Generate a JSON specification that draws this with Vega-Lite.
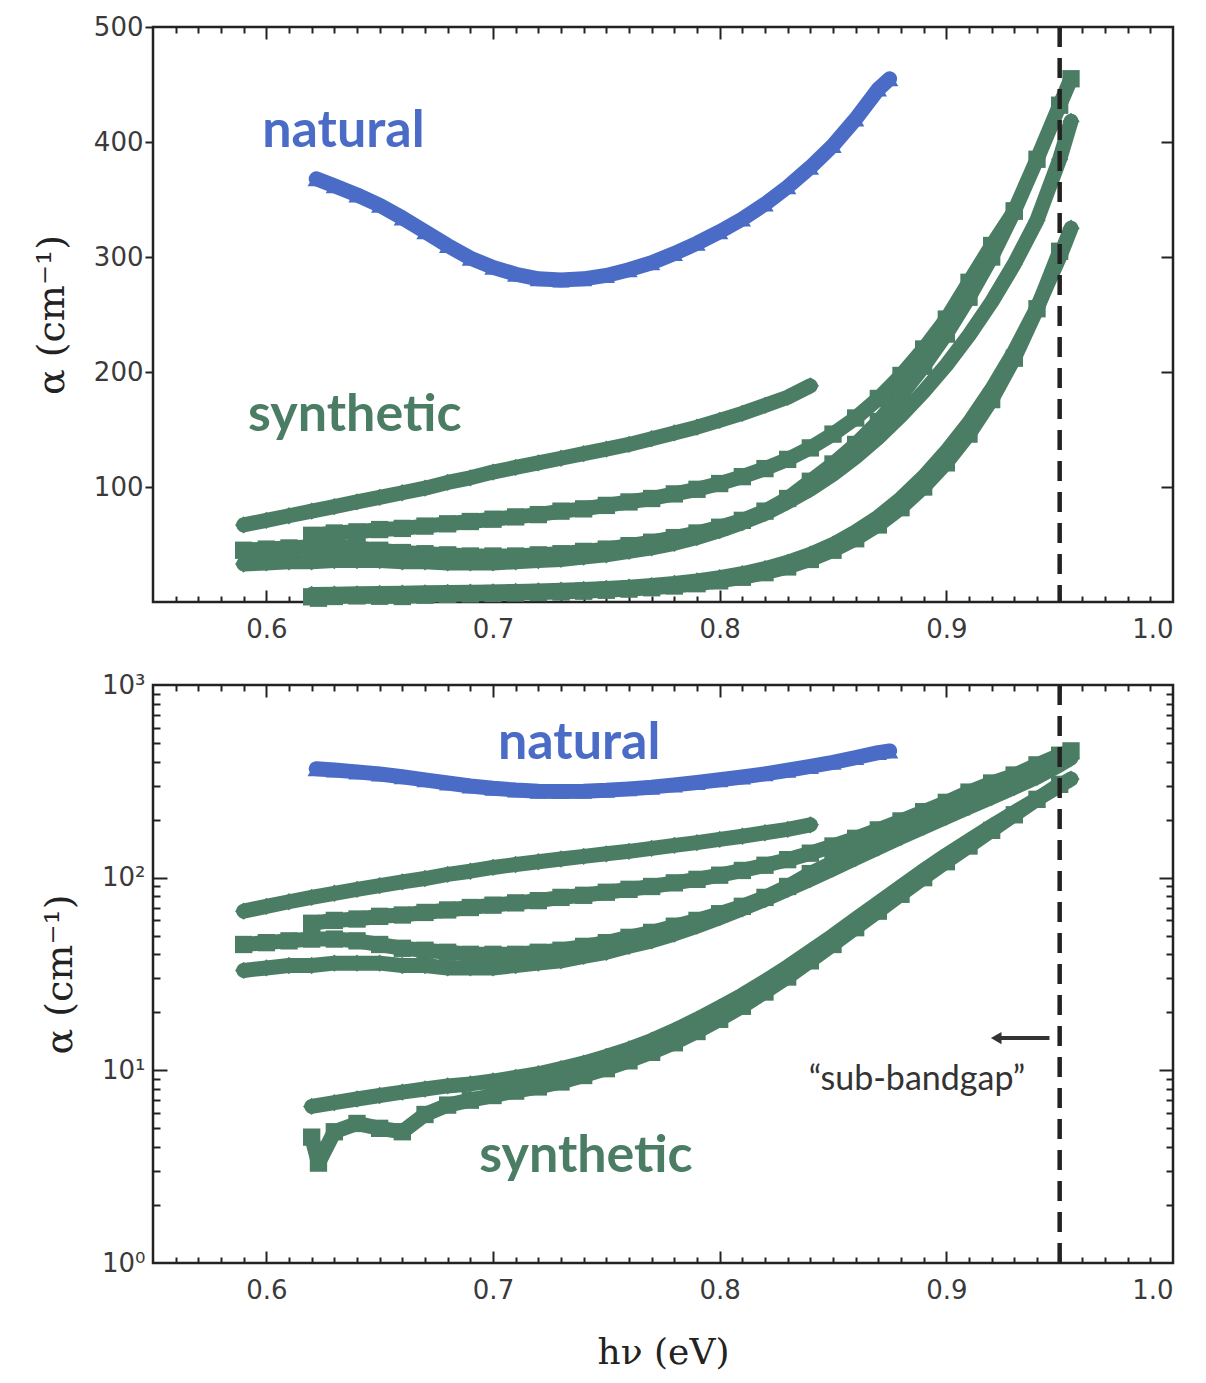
{
  "$schema": "https://vega.github.io/schema/vega-lite/v6.json",
  "background": "white",
  "padding": {"left": 32, "top": 12, "right": 12, "bottom": 5},
  "spacing": 26,
  "datasets": {
    "curves": [
      {"s":"N","g":"natural","x":0.622,"y":368},{"s":"N","g":"natural","x":0.63,"y":362},{"s":"N","g":"natural","x":0.64,"y":354},{"s":"N","g":"natural","x":0.65,"y":345},{"s":"N","g":"natural","x":0.66,"y":334},{"s":"N","g":"natural","x":0.67,"y":322},{"s":"N","g":"natural","x":0.68,"y":310},{"s":"N","g":"natural","x":0.69,"y":299},{"s":"N","g":"natural","x":0.70,"y":291},{"s":"N","g":"natural","x":0.71,"y":285},{"s":"N","g":"natural","x":0.72,"y":281},{"s":"N","g":"natural","x":0.73,"y":280},{"s":"N","g":"natural","x":0.74,"y":281},{"s":"N","g":"natural","x":0.75,"y":284},{"s":"N","g":"natural","x":0.76,"y":289},{"s":"N","g":"natural","x":0.77,"y":295},{"s":"N","g":"natural","x":0.78,"y":303},{"s":"N","g":"natural","x":0.79,"y":312},{"s":"N","g":"natural","x":0.80,"y":322},{"s":"N","g":"natural","x":0.81,"y":333},{"s":"N","g":"natural","x":0.82,"y":346},{"s":"N","g":"natural","x":0.83,"y":361},{"s":"N","g":"natural","x":0.84,"y":378},{"s":"N","g":"natural","x":0.85,"y":397},{"s":"N","g":"natural","x":0.86,"y":420},{"s":"N","g":"natural","x":0.87,"y":446},{"s":"N","g":"natural","x":0.875,"y":455},
      {"s":"A","g":"synthetic","x":0.59,"y":67},{"s":"A","g":"synthetic","x":0.60,"y":71},{"s":"A","g":"synthetic","x":0.61,"y":75},{"s":"A","g":"synthetic","x":0.62,"y":79},{"s":"A","g":"synthetic","x":0.63,"y":83},{"s":"A","g":"synthetic","x":0.64,"y":87},{"s":"A","g":"synthetic","x":0.65,"y":91},{"s":"A","g":"synthetic","x":0.66,"y":95},{"s":"A","g":"synthetic","x":0.67,"y":99},{"s":"A","g":"synthetic","x":0.68,"y":104},{"s":"A","g":"synthetic","x":0.69,"y":108},{"s":"A","g":"synthetic","x":0.70,"y":113},{"s":"A","g":"synthetic","x":0.71,"y":117},{"s":"A","g":"synthetic","x":0.72,"y":121},{"s":"A","g":"synthetic","x":0.73,"y":125},{"s":"A","g":"synthetic","x":0.74,"y":129},{"s":"A","g":"synthetic","x":0.75,"y":133},{"s":"A","g":"synthetic","x":0.76,"y":137},{"s":"A","g":"synthetic","x":0.77,"y":142},{"s":"A","g":"synthetic","x":0.78,"y":147},{"s":"A","g":"synthetic","x":0.79,"y":152},{"s":"A","g":"synthetic","x":0.80,"y":158},{"s":"A","g":"synthetic","x":0.81,"y":164},{"s":"A","g":"synthetic","x":0.82,"y":171},{"s":"A","g":"synthetic","x":0.83,"y":178},{"s":"A","g":"synthetic","x":0.84,"y":188},
      {"s":"B","g":"synthetic","x":0.62,"y":58},{"s":"B","g":"synthetic","x":0.63,"y":60},{"s":"B","g":"synthetic","x":0.64,"y":61},{"s":"B","g":"synthetic","x":0.65,"y":63},{"s":"B","g":"synthetic","x":0.66,"y":64},{"s":"B","g":"synthetic","x":0.67,"y":66},{"s":"B","g":"synthetic","x":0.68,"y":68},{"s":"B","g":"synthetic","x":0.69,"y":70},{"s":"B","g":"synthetic","x":0.70,"y":72},{"s":"B","g":"synthetic","x":0.71,"y":74},{"s":"B","g":"synthetic","x":0.72,"y":76},{"s":"B","g":"synthetic","x":0.73,"y":79},{"s":"B","g":"synthetic","x":0.74,"y":81},{"s":"B","g":"synthetic","x":0.75,"y":84},{"s":"B","g":"synthetic","x":0.76,"y":87},{"s":"B","g":"synthetic","x":0.77,"y":90},{"s":"B","g":"synthetic","x":0.78,"y":94},{"s":"B","g":"synthetic","x":0.79,"y":98},{"s":"B","g":"synthetic","x":0.80,"y":103},{"s":"B","g":"synthetic","x":0.81,"y":109},{"s":"B","g":"synthetic","x":0.82,"y":116},{"s":"B","g":"synthetic","x":0.83,"y":124},{"s":"B","g":"synthetic","x":0.84,"y":134},{"s":"B","g":"synthetic","x":0.85,"y":146},{"s":"B","g":"synthetic","x":0.86,"y":160},{"s":"B","g":"synthetic","x":0.87,"y":177},{"s":"B","g":"synthetic","x":0.88,"y":197},{"s":"B","g":"synthetic","x":0.89,"y":220},{"s":"B","g":"synthetic","x":0.90,"y":246},{"s":"B","g":"synthetic","x":0.91,"y":278},{"s":"B","g":"synthetic","x":0.92,"y":310},{"s":"B","g":"synthetic","x":0.93,"y":340},
      {"s":"C","g":"synthetic","x":0.59,"y":45},{"s":"C","g":"synthetic","x":0.60,"y":46},{"s":"C","g":"synthetic","x":0.61,"y":47},{"s":"C","g":"synthetic","x":0.62,"y":48},{"s":"C","g":"synthetic","x":0.63,"y":48},{"s":"C","g":"synthetic","x":0.64,"y":47},{"s":"C","g":"synthetic","x":0.65,"y":45},{"s":"C","g":"synthetic","x":0.66,"y":43},{"s":"C","g":"synthetic","x":0.67,"y":42},{"s":"C","g":"synthetic","x":0.68,"y":41},{"s":"C","g":"synthetic","x":0.69,"y":40},{"s":"C","g":"synthetic","x":0.70,"y":40},{"s":"C","g":"synthetic","x":0.71,"y":40},{"s":"C","g":"synthetic","x":0.72,"y":41},{"s":"C","g":"synthetic","x":0.73,"y":42},{"s":"C","g":"synthetic","x":0.74,"y":44},{"s":"C","g":"synthetic","x":0.75,"y":46},{"s":"C","g":"synthetic","x":0.76,"y":49},{"s":"C","g":"synthetic","x":0.77,"y":52},{"s":"C","g":"synthetic","x":0.78,"y":56},{"s":"C","g":"synthetic","x":0.79,"y":60},{"s":"C","g":"synthetic","x":0.80,"y":65},{"s":"C","g":"synthetic","x":0.81,"y":71},{"s":"C","g":"synthetic","x":0.82,"y":79},{"s":"C","g":"synthetic","x":0.83,"y":90},{"s":"C","g":"synthetic","x":0.84,"y":105},{"s":"C","g":"synthetic","x":0.85,"y":120},{"s":"C","g":"synthetic","x":0.86,"y":137},{"s":"C","g":"synthetic","x":0.87,"y":157},{"s":"C","g":"synthetic","x":0.88,"y":180},{"s":"C","g":"synthetic","x":0.89,"y":205},{"s":"C","g":"synthetic","x":0.90,"y":233},{"s":"C","g":"synthetic","x":0.91,"y":265},{"s":"C","g":"synthetic","x":0.92,"y":300},{"s":"C","g":"synthetic","x":0.93,"y":340},{"s":"C","g":"synthetic","x":0.94,"y":385},{"s":"C","g":"synthetic","x":0.95,"y":432},{"s":"C","g":"synthetic","x":0.955,"y":455},
      {"s":"D","g":"synthetic","x":0.59,"y":33},{"s":"D","g":"synthetic","x":0.60,"y":34},{"s":"D","g":"synthetic","x":0.61,"y":35},{"s":"D","g":"synthetic","x":0.62,"y":35},{"s":"D","g":"synthetic","x":0.63,"y":36},{"s":"D","g":"synthetic","x":0.64,"y":36},{"s":"D","g":"synthetic","x":0.65,"y":36},{"s":"D","g":"synthetic","x":0.66,"y":35},{"s":"D","g":"synthetic","x":0.67,"y":35},{"s":"D","g":"synthetic","x":0.68,"y":34},{"s":"D","g":"synthetic","x":0.69,"y":34},{"s":"D","g":"synthetic","x":0.70,"y":34},{"s":"D","g":"synthetic","x":0.71,"y":35},{"s":"D","g":"synthetic","x":0.72,"y":36},{"s":"D","g":"synthetic","x":0.73,"y":37},{"s":"D","g":"synthetic","x":0.74,"y":39},{"s":"D","g":"synthetic","x":0.75,"y":41},{"s":"D","g":"synthetic","x":0.76,"y":44},{"s":"D","g":"synthetic","x":0.77,"y":47},{"s":"D","g":"synthetic","x":0.78,"y":51},{"s":"D","g":"synthetic","x":0.79,"y":56},{"s":"D","g":"synthetic","x":0.80,"y":62},{"s":"D","g":"synthetic","x":0.81,"y":69},{"s":"D","g":"synthetic","x":0.82,"y":77},{"s":"D","g":"synthetic","x":0.83,"y":87},{"s":"D","g":"synthetic","x":0.84,"y":98},{"s":"D","g":"synthetic","x":0.85,"y":111},{"s":"D","g":"synthetic","x":0.86,"y":126},{"s":"D","g":"synthetic","x":0.87,"y":143},{"s":"D","g":"synthetic","x":0.88,"y":162},{"s":"D","g":"synthetic","x":0.89,"y":183},{"s":"D","g":"synthetic","x":0.90,"y":206},{"s":"D","g":"synthetic","x":0.91,"y":232},{"s":"D","g":"synthetic","x":0.92,"y":261},{"s":"D","g":"synthetic","x":0.93,"y":294},{"s":"D","g":"synthetic","x":0.94,"y":332},{"s":"D","g":"synthetic","x":0.95,"y":385},{"s":"D","g":"synthetic","x":0.955,"y":418},
      {"s":"E2","g":"synthetic","x":0.62,"y":6.5},{"s":"E2","g":"synthetic","x":0.63,"y":6.8},{"s":"E2","g":"synthetic","x":0.64,"y":7.1},{"s":"E2","g":"synthetic","x":0.65,"y":7.4},{"s":"E2","g":"synthetic","x":0.66,"y":7.7},{"s":"E2","g":"synthetic","x":0.67,"y":8.0},{"s":"E2","g":"synthetic","x":0.68,"y":8.3},{"s":"E2","g":"synthetic","x":0.69,"y":8.5},{"s":"E2","g":"synthetic","x":0.70,"y":8.8},{"s":"E2","g":"synthetic","x":0.71,"y":9.2},{"s":"E2","g":"synthetic","x":0.72,"y":9.6},{"s":"E2","g":"synthetic","x":0.73,"y":10.2},{"s":"E2","g":"synthetic","x":0.74,"y":10.9},{"s":"E2","g":"synthetic","x":0.75,"y":11.8},{"s":"E2","g":"synthetic","x":0.76,"y":12.9},{"s":"E2","g":"synthetic","x":0.77,"y":14.3},{"s":"E2","g":"synthetic","x":0.78,"y":16.1},{"s":"E2","g":"synthetic","x":0.79,"y":18.4},{"s":"E2","g":"synthetic","x":0.80,"y":21.2},{"s":"E2","g":"synthetic","x":0.81,"y":24.6},{"s":"E2","g":"synthetic","x":0.82,"y":29},{"s":"E2","g":"synthetic","x":0.83,"y":34.5},{"s":"E2","g":"synthetic","x":0.84,"y":41.5},{"s":"E2","g":"synthetic","x":0.85,"y":50},{"s":"E2","g":"synthetic","x":0.86,"y":61},{"s":"E2","g":"synthetic","x":0.87,"y":74},{"s":"E2","g":"synthetic","x":0.88,"y":90},{"s":"E2","g":"synthetic","x":0.89,"y":109},{"s":"E2","g":"synthetic","x":0.90,"y":131},{"s":"E2","g":"synthetic","x":0.91,"y":156},{"s":"E2","g":"synthetic","x":0.92,"y":185},{"s":"E2","g":"synthetic","x":0.93,"y":218},{"s":"E2","g":"synthetic","x":0.94,"y":256},{"s":"E2","g":"synthetic","x":0.95,"y":300},{"s":"E2","g":"synthetic","x":0.955,"y":325},
      {"s":"E1","g":"synthetic","x":0.62,"y":4.5},{"s":"E1","g":"synthetic","x":0.623,"y":3.3},{"s":"E1","g":"synthetic","x":0.63,"y":4.8},{"s":"E1","g":"synthetic","x":0.64,"y":5.3},{"s":"E1","g":"synthetic","x":0.65,"y":5.0},{"s":"E1","g":"synthetic","x":0.66,"y":4.8},{"s":"E1","g":"synthetic","x":0.67,"y":5.9},{"s":"E1","g":"synthetic","x":0.68,"y":6.6},{"s":"E1","g":"synthetic","x":0.69,"y":7.0},{"s":"E1","g":"synthetic","x":0.70,"y":7.4},{"s":"E1","g":"synthetic","x":0.71,"y":7.8},{"s":"E1","g":"synthetic","x":0.72,"y":8.2},{"s":"E1","g":"synthetic","x":0.73,"y":8.7},{"s":"E1","g":"synthetic","x":0.74,"y":9.4},{"s":"E1","g":"synthetic","x":0.75,"y":10.2},{"s":"E1","g":"synthetic","x":0.76,"y":11.2},{"s":"E1","g":"synthetic","x":0.77,"y":12.4},{"s":"E1","g":"synthetic","x":0.78,"y":13.9},{"s":"E1","g":"synthetic","x":0.79,"y":15.9},{"s":"E1","g":"synthetic","x":0.80,"y":18.4},{"s":"E1","g":"synthetic","x":0.81,"y":21.5},{"s":"E1","g":"synthetic","x":0.82,"y":25.5},{"s":"E1","g":"synthetic","x":0.83,"y":30.5},{"s":"E1","g":"synthetic","x":0.84,"y":37},{"s":"E1","g":"synthetic","x":0.85,"y":45},{"s":"E1","g":"synthetic","x":0.86,"y":55},{"s":"E1","g":"synthetic","x":0.87,"y":67},{"s":"E1","g":"synthetic","x":0.88,"y":82},{"s":"E1","g":"synthetic","x":0.89,"y":100},{"s":"E1","g":"synthetic","x":0.90,"y":121},{"s":"E1","g":"synthetic","x":0.91,"y":146},{"s":"E1","g":"synthetic","x":0.92,"y":176},{"s":"E1","g":"synthetic","x":0.93,"y":212},{"s":"E1","g":"synthetic","x":0.94,"y":255},{"s":"E1","g":"synthetic","x":0.95,"y":305}
    ],
    "cut": [{"x": 0.95}],
    "lab_top": [
      {"label": "natural", "g": "natural", "x": 0.634, "y": 410},
      {"label": "synthetic", "g": "synthetic", "x": 0.639, "y": 163}
    ],
    "lab_bot": [
      {"label": "natural", "g": "natural", "x": 0.738, "y": 500},
      {"label": "synthetic", "g": "synthetic", "x": 0.741, "y": 3.6}
    ],
    "note": [{"label": "“sub-bandgap”", "x": 0.887, "y": 8.9}],
    "arrow": [{"x": 0.9455, "x2": 0.924, "y": 14.7, "hx": 0.922}]
  },
  "vconcat": [
    {
      "width": 1020,
      "height": 575,
      "layer": [
        {
          "data": {"name": "curves"},
          "mark": {"type": "line", "strokeWidth": 15, "strokeCap": "round", "strokeJoin": "round"},
          "encoding": {
            "x": {"field": "x", "type": "quantitative", "scale": {"domain": [0.55, 1.0], "nice": false, "zero": false},
              "axis": {"orient": "bottom", "values": [0.6, 0.7, 0.8, 0.9, 1.0], "format": ".1f", "ticks": false, "labelPadding": 14, "title": null}},
            "y": {"field": "y", "type": "quantitative", "scale": {"domain": [0, 500], "nice": false, "zero": false},
              "axis": {"orient": "left", "values": [100, 200, 300, 400, 500], "ticks": true, "tickSize": 8, "labelPadding": 2, "title": "α (cm⁻¹)", "titlePadding": 22}},
            "detail": {"field": "s"},
            "color": {"field": "g", "type": "nominal", "scale": {"domain": ["natural", "synthetic"], "range": ["#4a6cc6", "#4b7d64"]}, "legend": null}
          }
        },
        {
          "data": {"name": "curves"},
          "mark": {"type": "point", "filled": true, "opacity": 1, "size": 300},
          "encoding": {
            "x": {"field": "x", "type": "quantitative", "scale": {"domain": [0.55, 1.0], "nice": false, "zero": false},
              "axis": {"orient": "bottom", "labels": false, "title": null, "values": [0.56,0.57,0.58,0.59,0.6,0.61,0.62,0.63,0.64,0.65,0.66,0.67,0.68,0.69,0.7,0.71,0.72,0.73,0.74,0.75,0.76,0.77,0.78,0.79,0.8,0.81,0.82,0.83,0.84,0.85,0.86,0.87,0.88,0.89,0.9,0.91,0.92,0.93,0.94,0.95,0.96,0.97,0.98,0.99],
                "tickSize": {"condition": {"test": "abs(datum.value*10 - round(datum.value*10)) < 0.001", "value": -12}, "value": -6}}},
            "y": {"field": "y", "type": "quantitative", "scale": {"domain": [0, 500], "nice": false, "zero": false},
              "axis": {"orient": "right", "labels": false, "title": null, "values": [100, 200, 300, 400], "tickSize": -12}},
            "shape": {"field": "s", "type": "nominal", "scale": {"domain": ["N", "A", "B", "C", "D", "E1", "E2"], "range": ["triangle-up", "diamond", "square", "square", "diamond", "square", "diamond"]}, "legend": null},
            "color": {"field": "g", "type": "nominal", "scale": {"domain": ["natural", "synthetic"], "range": ["#4a6cc6", "#4b7d64"]}, "legend": null}
          }
        },
        {
          "data": {"name": "curves"},
          "mark": {"type": "point", "opacity": 0},
          "encoding": {
            "x": {"field": "x", "type": "quantitative", "scale": {"domain": [0.55, 1.0], "nice": false, "zero": false},
              "axis": {"orient": "top", "labels": false, "title": null, "values": [0.56,0.57,0.58,0.59,0.6,0.61,0.62,0.63,0.64,0.65,0.66,0.67,0.68,0.69,0.7,0.71,0.72,0.73,0.74,0.75,0.76,0.77,0.78,0.79,0.8,0.81,0.82,0.83,0.84,0.85,0.86,0.87,0.88,0.89,0.9,0.91,0.92,0.93,0.94,0.95,0.96,0.97,0.98,0.99],
                "tickSize": {"condition": {"test": "abs(datum.value*10 - round(datum.value*10)) < 0.001", "value": -12}, "value": -6}}},
            "y": {"field": "y", "type": "quantitative", "scale": {"domain": [0, 500], "nice": false, "zero": false}, "axis": null}
          }
        },
        {
          "data": {"name": "lab_top"},
          "mark": {"type": "text", "font": "Lato", "fontWeight": "bold", "fontSize": 52, "align": "center", "baseline": "middle"},
          "encoding": {
            "x": {"field": "x", "type": "quantitative", "axis": null},
            "y": {"field": "y", "type": "quantitative", "axis": null},
            "text": {"field": "label"},
            "color": {"field": "g", "type": "nominal", "scale": {"domain": ["natural", "synthetic"], "range": ["#4a6cc6", "#4b7d64"]}, "legend": null}
          }
        },
        {
          "data": {"name": "cut"},
          "mark": {"type": "rule", "strokeDash": [20, 11], "strokeWidth": 4.5, "color": "#222"},
          "encoding": {"x": {"field": "x", "type": "quantitative", "axis": null}}
        }
      ],
      "resolve": {"axis": {"x": "independent", "y": "independent"}}
    },
    {
      "width": 1020,
      "height": 578,
      "layer": [
        {
          "data": {"name": "curves"},
          "mark": {"type": "line", "strokeWidth": 15, "strokeCap": "round", "strokeJoin": "round"},
          "encoding": {
            "x": {"field": "x", "type": "quantitative", "scale": {"domain": [0.55, 1.0], "nice": false, "zero": false},
              "axis": {"orient": "bottom", "values": [0.6, 0.7, 0.8, 0.9, 1.0], "format": ".1f", "ticks": false, "labelPadding": 14, "title": "hν (eV)", "titleFontSize": 36, "titlePadding": 32}},
            "y": {"field": "y", "type": "quantitative", "scale": {"type": "log", "domain": [1, 1000], "nice": false},
              "axis": {"orient": "left", "values": [1, 10, 100, 1000], "ticks": false, "labelPadding": 8, "title": "α (cm⁻¹)", "titlePadding": 22,
                "labelExpr": "datum.value == 1 ? '10⁰' : datum.value == 10 ? '10¹' : datum.value == 100 ? '10²' : '10³'"}},
            "detail": {"field": "s"},
            "color": {"field": "g", "type": "nominal", "scale": {"domain": ["natural", "synthetic"], "range": ["#4a6cc6", "#4b7d64"]}, "legend": null}
          }
        },
        {
          "data": {"name": "curves"},
          "mark": {"type": "point", "filled": true, "opacity": 1, "size": 300},
          "encoding": {
            "x": {"field": "x", "type": "quantitative", "scale": {"domain": [0.55, 1.0], "nice": false, "zero": false},
              "axis": {"orient": "bottom", "labels": false, "title": null, "values": [0.56,0.57,0.58,0.59,0.6,0.61,0.62,0.63,0.64,0.65,0.66,0.67,0.68,0.69,0.7,0.71,0.72,0.73,0.74,0.75,0.76,0.77,0.78,0.79,0.8,0.81,0.82,0.83,0.84,0.85,0.86,0.87,0.88,0.89,0.9,0.91,0.92,0.93,0.94,0.95,0.96,0.97,0.98,0.99],
                "tickSize": {"condition": {"test": "abs(datum.value*10 - round(datum.value*10)) < 0.001", "value": -12}, "value": -6}}},
            "y": {"field": "y", "type": "quantitative", "scale": {"type": "log", "domain": [1, 1000], "nice": false},
              "axis": {"orient": "right", "labels": false, "title": null, "values": [2,3,4,5,6,7,8,9,10,20,30,40,50,60,70,80,90,100,200,300,400,500,600,700,800,900],
                "tickSize": {"condition": {"test": "indexof([10,100], datum.value) >= 0", "value": -14}, "value": -7}}},
            "shape": {"field": "s", "type": "nominal", "scale": {"domain": ["N", "A", "B", "C", "D", "E1", "E2"], "range": ["triangle-up", "diamond", "square", "square", "diamond", "square", "diamond"]}, "legend": null},
            "color": {"field": "g", "type": "nominal", "scale": {"domain": ["natural", "synthetic"], "range": ["#4a6cc6", "#4b7d64"]}, "legend": null}
          }
        },
        {
          "data": {"name": "curves"},
          "mark": {"type": "point", "opacity": 0},
          "encoding": {
            "x": {"field": "x", "type": "quantitative", "scale": {"domain": [0.55, 1.0], "nice": false, "zero": false},
              "axis": {"orient": "top", "labels": false, "title": null, "values": [0.56,0.57,0.58,0.59,0.6,0.61,0.62,0.63,0.64,0.65,0.66,0.67,0.68,0.69,0.7,0.71,0.72,0.73,0.74,0.75,0.76,0.77,0.78,0.79,0.8,0.81,0.82,0.83,0.84,0.85,0.86,0.87,0.88,0.89,0.9,0.91,0.92,0.93,0.94,0.95,0.96,0.97,0.98,0.99],
                "tickSize": {"condition": {"test": "abs(datum.value*10 - round(datum.value*10)) < 0.001", "value": -12}, "value": -6}}},
            "y": {"field": "y", "type": "quantitative", "scale": {"type": "log", "domain": [1, 1000], "nice": false},
              "axis": {"orient": "left", "labels": false, "title": null, "values": [2,3,4,5,6,7,8,9,10,20,30,40,50,60,70,80,90,100,200,300,400,500,600,700,800,900],
                "tickSize": {"condition": {"test": "indexof([10,100], datum.value) >= 0", "value": -14}, "value": -7}}}
          }
        },
        {
          "data": {"name": "lab_bot"},
          "mark": {"type": "text", "font": "Lato", "fontWeight": "bold", "fontSize": 52, "align": "center", "baseline": "middle"},
          "encoding": {
            "x": {"field": "x", "type": "quantitative", "axis": null},
            "y": {"field": "y", "type": "quantitative", "axis": null},
            "text": {"field": "label"},
            "color": {"field": "g", "type": "nominal", "scale": {"domain": ["natural", "synthetic"], "range": ["#4a6cc6", "#4b7d64"]}, "legend": null}
          }
        },
        {
          "data": {"name": "note"},
          "mark": {"type": "text", "font": "Lato", "fontSize": 34, "align": "center", "baseline": "middle", "color": "#333"},
          "encoding": {
            "x": {"field": "x", "type": "quantitative", "axis": null},
            "y": {"field": "y", "type": "quantitative", "axis": null},
            "text": {"field": "label"}
          }
        },
        {
          "data": {"name": "arrow"},
          "mark": {"type": "rule", "strokeWidth": 4, "color": "#333"},
          "encoding": {
            "x": {"field": "x", "type": "quantitative", "axis": null},
            "x2": {"field": "x2"},
            "y": {"field": "y", "type": "quantitative", "axis": null}
          }
        },
        {
          "data": {"name": "arrow"},
          "mark": {"type": "point", "shape": "triangle-left", "filled": true, "size": 150, "color": "#333", "opacity": 1},
          "encoding": {
            "x": {"field": "hx", "type": "quantitative", "axis": null},
            "y": {"field": "y", "type": "quantitative", "axis": null}
          }
        },
        {
          "data": {"name": "cut"},
          "mark": {"type": "rule", "strokeDash": [20, 11], "strokeWidth": 4.5, "color": "#222"},
          "encoding": {"x": {"field": "x", "type": "quantitative", "axis": null}}
        }
      ],
      "resolve": {"axis": {"x": "independent", "y": "independent"}}
    }
  ],
  "config": {
    "view": {"stroke": "#222", "strokeWidth": 2.5},
    "axis": {"labelFont": "DejaVu Sans", "labelFontSize": 26, "labelColor": "#3a3a3a", "tickColor": "#222", "tickWidth": 2, "domain": false, "grid": false,
      "titleFont": "DejaVu Serif", "titleFontSize": 38, "titleFontWeight": "normal", "titleColor": "#222"}
  }
}
